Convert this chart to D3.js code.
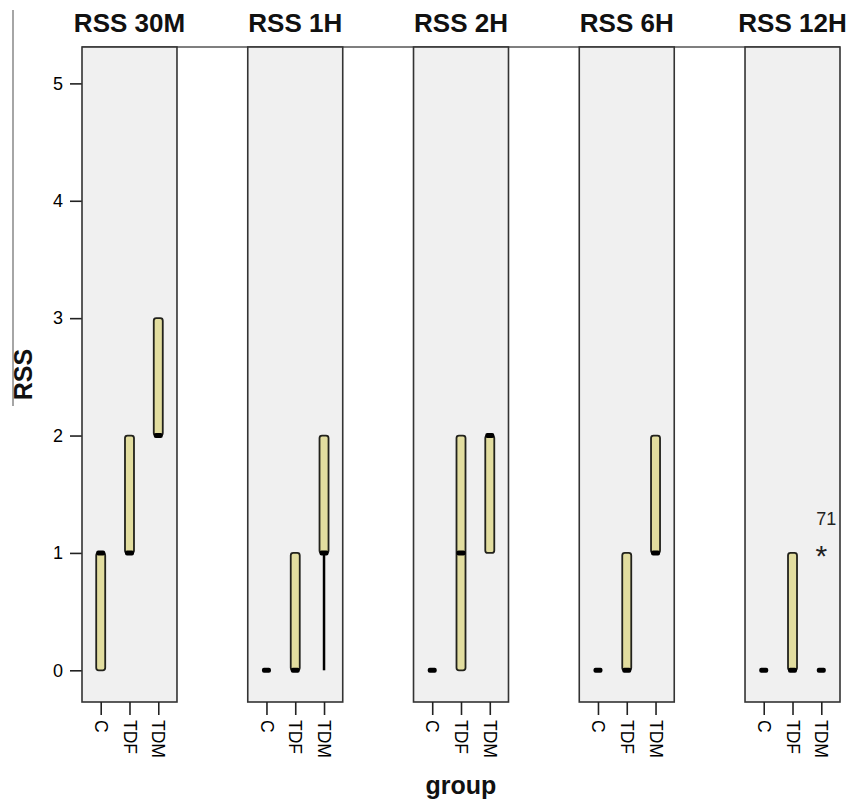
<!DOCTYPE html>
<html>
<head>
<meta charset="utf-8">
<script src="https://cdn.jsdelivr.net/npm/d3@7"></script>
<style>
	body { margin: 0; background: #fff; }
	svg text { font-family: "Liberation Sans", Arial, sans-serif; }
</style>
</head>
<body>
<svg id="main-svg" width="851" height="805"></svg>
<script>
const panels = ['RSS 30M', 'RSS 1H', 'RSS 2H', 'RSS 6H', 'RSS 12H'];
const groups = ['C', 'TDF', 'TDM'];
const yTicks = [0, 1, 2, 3, 4, 5];

// per panel, per group
const q1 = [[0, 1, 2], [0, 0, 1], [0, 0, 1], [0, 0, 1], [0, 0, 0]];
const medians = [[1, 1, 2], [0, 0, 1], [0, 1, 2], [0, 0, 1], [0, 0, 0]];
const q3 = [[1, 2, 3], [0, 1, 2], [0, 2, 2], [0, 1, 2], [0, 1, 0]];
const whiskerLo = [[0, 1, 2], [0, 0, 0], [0, 0, 1], [0, 0, 1], [0, 0, 0]];
const whiskerHi = [[1, 2, 3], [0, 1, 2], [0, 2, 2], [0, 1, 2], [0, 1, 0]];
const outliers = [{ panel: 4, group: 2, value: 1, label: '71' }];

var svg = d3.select('#main-svg');

const plotTop = 47, plotBottom = 702;

let px = d3.scaleBand()
	.domain(panels)
	.range([82, 840])
	.paddingInner(0.427)
	.paddingOuter(0);

let gx = d3.scalePoint()
	.domain(groups)
	.range([0, px.bandwidth()])
	.padding(0.65);

let y = d3.scaleLinear()
	.domain([-0.27, 5.31])
	.range([plotBottom, plotTop]);

// frame lines
svg.append('line')
	.attr('x1', 13).attr('x2', 13)
	.attr('y1', 10).attr('y2', 406)
	.attr('stroke', '#888').attr('stroke-width', 1.5);

svg.append('line')
	.attr('x1', px.range()[0]).attr('x2', px.range()[1])
	.attr('y1', plotTop).attr('y2', plotTop)
	.attr('stroke', '#555').attr('stroke-width', 1.5);

// y axis
let yAxis = svg.append('g')
	.attr('transform', `translate(${px.range()[0]},0)`)
	.call(d3.axisLeft(y).tickValues(yTicks).tickSize(12).tickPadding(7).tickFormat(d3.format('d')));
yAxis.select('.domain').remove();
yAxis.selectAll('line').attr('stroke', '#222').attr('stroke-width', 1.6);
yAxis.selectAll('text')
	.attr('font-size', 18)
	.attr('fill', '#000')
	.style('font-family', '"Liberation Sans", Arial, sans-serif');

svg.append('text')
	.attr('transform', `translate(32,${(plotTop + plotBottom) / 2}) rotate(-90)`)
	.attr('text-anchor', 'middle')
	.attr('font-size', 25)
	.attr('font-weight', 'bold')
	.attr('fill', '#111')
	.text('RSS');

svg.append('text')
	.attr('x', (px.range()[0] + px.range()[1]) / 2)
	.attr('y', 794)
	.attr('text-anchor', 'middle')
	.attr('font-size', 25)
	.attr('font-weight', 'bold')
	.attr('fill', '#111')
	.text('group');

const boxW = 9;

panels.forEach((p, i) => {
	let g = svg.append('g')
		.attr('transform', `translate(${px(p)},0)`);

	g.append('rect')
		.attr('x', 0).attr('y', plotTop)
		.attr('width', px.bandwidth())
		.attr('height', plotBottom - plotTop)
		.attr('fill', '#f0f0f0')
		.attr('stroke', '#333')
		.attr('stroke-width', 1.6);

	g.append('text')
		.attr('x', px.bandwidth() / 2)
		.attr('y', 32)
		.attr('text-anchor', 'middle')
		.attr('font-size', 26)
		.attr('font-weight', 'bold')
		.attr('fill', '#111')
		.text(p);

	let xAxis = g.append('g')
		.attr('transform', `translate(0,${plotBottom})`)
		.call(d3.axisBottom(gx).tickSize(13).tickPadding(0));
	xAxis.select('.domain').remove();
	xAxis.selectAll('line').attr('stroke', '#222').attr('stroke-width', 1.6);
	xAxis.selectAll('text')
		.attr('transform', 'rotate(90)')
		.attr('text-anchor', 'start')
		.attr('x', 18)
		.attr('y', 0)
		.attr('dy', '0.36em')
		.attr('font-size', 17.5)
		.attr('fill', '#000')
		.style('font-family', '"Liberation Sans", Arial, sans-serif');

	groups.forEach((grp, j) => {
		let cx = gx(grp);
		// whiskers
		if (whiskerLo[i][j] < q1[i][j]) {
			g.append('line')
				.attr('x1', cx).attr('x2', cx)
				.attr('y1', y(q1[i][j])).attr('y2', y(whiskerLo[i][j]))
				.attr('stroke', '#000').attr('stroke-width', 2.5);
		}
		if (whiskerHi[i][j] > q3[i][j]) {
			g.append('line')
				.attr('x1', cx).attr('x2', cx)
				.attr('y1', y(q3[i][j])).attr('y2', y(whiskerHi[i][j]))
				.attr('stroke', '#000').attr('stroke-width', 2.5);
		}
		if (q3[i][j] > q1[i][j]) {
			g.append('rect')
				.attr('x', cx - boxW / 2)
				.attr('y', y(q3[i][j]))
				.attr('width', boxW)
				.attr('height', y(q1[i][j]) - y(q3[i][j]))
				.attr('rx', 2.5)
				.attr('fill', '#e2dd9f')
				.attr('stroke', '#22221c')
				.attr('stroke-width', 1.8);
		}
		// median
		g.append('rect')
			.attr('x', cx - boxW / 2)
			.attr('y', y(medians[i][j]) - 2.5)
			.attr('width', boxW)
			.attr('height', 5)
			.attr('rx', 2)
			.attr('fill', '#000');
	});

	outliers.filter(o => o.panel === i).forEach(o => {
		let cx = gx(groups[o.group]);
		g.append('text')
			.attr('x', cx)
			.attr('y', y(o.value))
			.attr('dy', '0.42em')
			.attr('text-anchor', 'middle')
			.attr('font-size', 30)
			.attr('fill', '#222')
			.text('*');
		g.append('text')
			.attr('x', cx + 5)
			.attr('y', y(o.value) - 28)
			.attr('text-anchor', 'middle')
			.attr('font-size', 18)
			.attr('fill', '#222')
			.text(o.label);
	});
});
</script>
</body>
</html>
